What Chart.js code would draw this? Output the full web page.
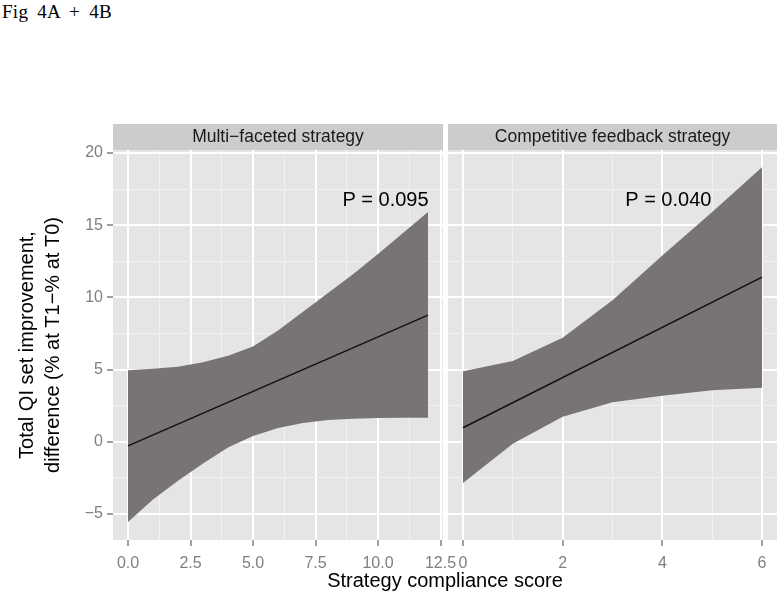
<!DOCTYPE html>
<html>
<head>
<meta charset="utf-8">
<script src="https://cdn.jsdelivr.net/npm/chart.js@4.4.1/dist/chart.umd.min.js"></script>
<style>
  body { margin: 0; background: #fff; }
  #wrap { position: relative; width: 783px; height: 596px; overflow: hidden; }
  #wrap canvas { position: absolute; left: 0; top: 0; }
  #fig { position: absolute; left: 2px; top: 1px; font: 19px "Liberation Serif", "Times New Roman", serif; letter-spacing: 0.3px; word-spacing: 4px; color: #000; }
  #xtitle { position: absolute; left: 445px; top: 570px; transform: translateX(-50%); font: 20px "Liberation Sans", Arial, sans-serif; line-height: 20px; color: #000; white-space: nowrap; }
</style>
</head>
<body>
<div id="wrap">
  <div id="fig">Fig 4A + 4B</div>
  <canvas id="c_left" width="783" height="596"></canvas>
  <canvas id="c_right" width="783" height="596"></canvas>
  <div id="xtitle">Strategy compliance score</div>
</div>
<script>
// panel titles
const panels = ["Multi\u2212faceted strategy", "Competitive feedback strategy"];

// multi-faceted strategy: fitted line + confidence band
const leftX = [0, 1, 2, 3, 4, 5, 6, 7, 8, 9, 10, 11, 12];
const leftUpper = [4.95, 5.05, 5.2, 5.5, 5.95, 6.6, 7.7, 9.0, 10.3, 11.6, 13.0, 14.45, 15.9];
const leftLower = [-5.55, -4.0, -2.7, -1.5, -0.4, 0.4, 0.95, 1.3, 1.5, 1.6, 1.65, 1.67, 1.67];
const leftFitX = [0, 12];
const leftFit = [-0.28, 8.77];

// competitive feedback strategy
const rightX = [0, 1, 2, 3, 4, 5, 6];
const rightUpper = [4.88, 5.6, 7.2, 9.8, 12.9, 15.9, 19.0];
const rightLower = [-2.85, -0.14, 1.73, 2.73, 3.19, 3.56, 3.74];
const rightFitX = [0, 6];
const rightFit = [0.97, 11.4];

// p-value labels
const pLabels = ["P = 0.095", "P = 0.040"];
const pX = [10.3, 4.12];
const pY = [16.7, 16.7];

// ticks
const yTicks = [-5, 0, 5, 10, 15, 20];
const yMinor = [-2.5, 2.5, 7.5, 12.5, 17.5];
const leftTicks = [0, 2.5, 5, 7.5, 10, 12.5];
const leftTickLabels = ["0.0", "2.5", "5.0", "7.5", "10.0", "12.5"];
const leftMinor = [1.25, 3.75, 6.25, 8.75, 11.25];
const rightTicks = [0, 2, 4, 6];
const rightTickLabels = ["0", "2", "4", "6"];
const rightMinor = [1, 3, 5];

Chart.defaults.font.family = "'Liberation Sans', Arial, sans-serif";

const BAND = "#787474";
const TICK_GREY = "#7f7f7f";

function pts(xs, ys) {
    return xs.map((x, i) => ({x: x, y: ys[i]}));
}

function gridOpts(major) {
    return {
        color: c => major.includes(c.tick.value) ? "#ffffff" : "#f2f2f2",
        lineWidth: c => major.includes(c.tick.value) ? 2 : 1,
        tickColor: c => major.includes(c.tick.value) ? TICK_GREY : "rgba(0,0,0,0)",
        tickWidth: 1.5,
        tickLength: 6
    };
}

const facetPlugin = {
    id: "facet",
    beforeDraw(chart) {
        const a = chart.chartArea, ctx = chart.ctx;
        ctx.save();
        ctx.fillStyle = "#e5e5e5";
        ctx.fillRect(a.left, a.top, a.right - a.left, a.bottom - a.top);
        ctx.restore();
    },
    afterDatasetsDraw(chart, args, opts) {
        const a = chart.chartArea, ctx = chart.ctx;
        ctx.save();
        // strip
        ctx.fillStyle = "#cccccc";
        ctx.fillRect(a.left, a.top - 26, a.right - a.left, 26);
        ctx.fillStyle = "#1a1a1a";
        ctx.font = "17.5px 'Liberation Sans', Arial, sans-serif";
        ctx.textAlign = "center";
        ctx.textBaseline = "middle";
        ctx.fillText(opts.strip, (a.left + a.right) / 2, a.top - 13);
        // p value
        ctx.fillStyle = "#000";
        ctx.font = "20px 'Liberation Sans', Arial, sans-serif";
        ctx.fillText(opts.label, chart.scales.x.getPixelForValue(opts.lx), chart.scales.y.getPixelForValue(opts.ly));
        ctx.restore();
    }
};

function makePanel(id, idx, xs, up, lo, fx, fy, xMin, xMax, xTicks, xLabels, xMinor, padding, showY) {
    return new Chart(document.getElementById(id), {
        type: "line",
        data: {
            datasets: [
                {data: pts(xs, lo), borderWidth: 0, pointRadius: 0, fill: false, tension: 0, order: 2},
                {data: pts(xs, up), borderWidth: 0, pointRadius: 0, fill: "-1", backgroundColor: BAND, tension: 0, order: 1},
                {data: pts(fx, fy), borderColor: "#111111", borderWidth: 1.5, pointRadius: 0, fill: false, order: 0}
            ]
        },
        options: {
            responsive: false,
            animation: false,
            layout: {padding: padding},
            plugins: {
                legend: {display: false},
                tooltip: {enabled: false},
                facet: {strip: panels[idx], label: pLabels[idx], lx: pX[idx], ly: pY[idx]}
            },
            scales: {
                x: {
                    type: "linear",
                    min: xMin,
                    max: xMax,
                    border: {display: false},
                    grid: gridOpts(xTicks),
                    afterBuildTicks: s => { s.ticks = xTicks.concat(xMinor).map(v => ({value: v})); },
                    ticks: {
                        autoSkip: false,
                        maxRotation: 0,
                        padding: 8,
                        color: TICK_GREY,
                        font: {size: 16},
                        callback: v => { const i = xTicks.indexOf(v); return i >= 0 ? xLabels[i] : ""; }
                    },
                    afterFit: s => { s.height = 56; s.paddingLeft = 0; s.paddingRight = 0; }
                },
                y: {
                    type: "linear",
                    min: -6.8,
                    max: 20.2,
                    border: {display: false},
                    grid: Object.assign(gridOpts(yTicks), showY ? {} : {drawTicks: false}),
                    afterBuildTicks: s => { s.ticks = yTicks.concat(yMinor).map(v => ({value: v})); },
                    ticks: {
                        display: showY,
                        padding: 4,
                        color: TICK_GREY,
                        font: {size: 16},
                        callback: v => yTicks.includes(v) ? String(v).replace("-", "\u2212") : ""
                    },
                    title: {
                        display: showY,
                        text: ["Total QI set improvement,", "difference (% at T1\u2212% at T0)"],
                        color: "#000",
                        font: {size: 20, lineHeight: 1.3},
                        padding: {top: 14, bottom: 0}
                    },
                    afterFit: s => { s.width = showY ? 113 : 0; }
                }
            }
        },
        plugins: [facetPlugin]
    });
}

makePanel("c_left", 0, leftX, leftUpper, leftLower, leftFitX, leftFit, -0.6, 12.6,
    leftTicks, leftTickLabels, leftMinor, {left: 0, top: 150, right: 340, bottom: 0}, true);
makePanel("c_right", 1, rightX, rightUpper, rightLower, rightFitX, rightFit, -0.3, 6.3,
    rightTicks, rightTickLabels, rightMinor, {left: 448, top: 150, right: 6, bottom: 0}, false);
</script>
</body>
</html>
